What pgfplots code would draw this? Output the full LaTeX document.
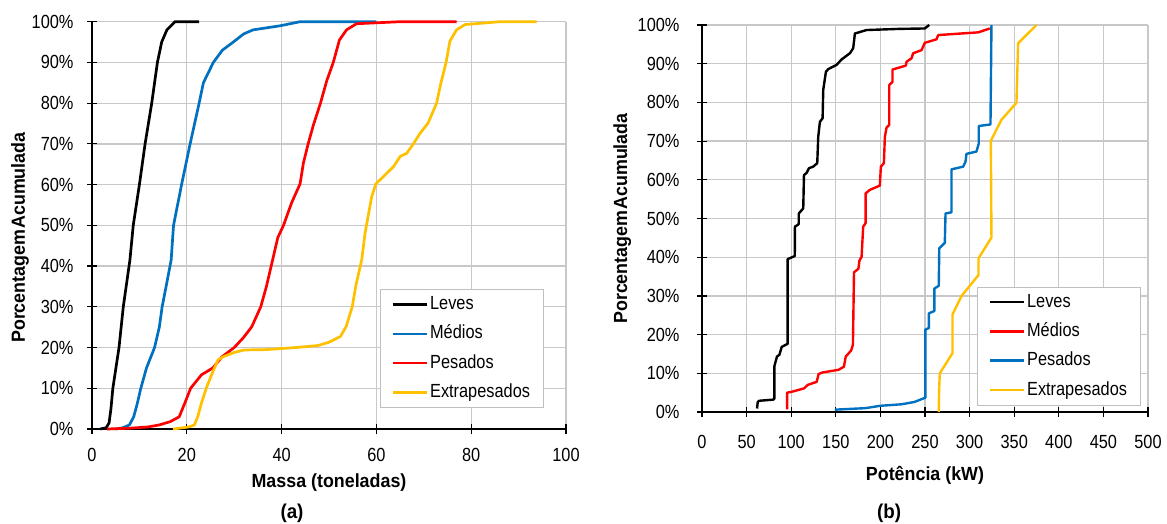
\documentclass[border=0pt]{standalone}
\usepackage{fontspec}
\setmainfont{Liberation Sans}[FakeStretch=0.86]
\newfontfamily\labfont{Liberation Sans}[FakeStretch=0.94]
\usepackage{pgfplots}
\pgfplotsset{compat=1.18}
\definecolor{cblue}{HTML}{0070C0}
\definecolor{cred}{HTML}{FF0000}
\definecolor{cyel}{HTML}{FFC000}
\definecolor{cgrid}{HTML}{C8C8C8}
\definecolor{cleg}{HTML}{BFBFBF}
\pgfplotsset{
  mystyle/.style={
    scale only axis,
    axis lines=left,
    axis line style={-, line width=1.2pt, black},
    grid=major,
    grid style={cgrid, line width=1.3pt},
    ymin=0, ymax=100,
    ytick={0,10,...,100},
    yticklabel={\pgfmathprintnumber{\tick}\%},
    /pgf/number format/assume math mode=true,
    tick align=center,
    major tick length=10pt,
    tick style={black, line width=1.2pt},
    tick label style={font=\fontsize{19}{22}\selectfont},
    label style={font=\labfont\bfseries\fontsize{19}{22}\selectfont},
    legend cell align=left,
    legend style={font=\fontsize{19}{22}\selectfont, draw=cleg, line width=1pt,
      inner xsep=11pt, inner ysep=4pt, row sep=7.3pt,
      nodes={inner sep=2pt, text height=14pt, text depth=4pt}},
    legend image code/.code={\draw[#1, line width=2.6pt] (0pt,0pt) -- (34pt,0pt);},
    every axis plot/.append style={line width=2.7pt, line join=round},
    clip=false,
  }
}
\begin{document}
\begin{tikzpicture}
\useasboundingbox (0,0) rectangle (1167pt,523pt);
\begin{axis}[mystyle,
  at={(92pt,94pt)}, anchor=south west,
  width=474pt, height=407.3pt,
  xmin=0, xmax=100, xtick={0,20,...,100},
  xticklabel style={yshift=-11pt},
  yticklabel style={xshift=-10pt},
  xlabel={Massa (toneladas)},
  xlabel style={at={(axis description cs:0.5,-0.1326)}, anchor=center},
  ylabel={Porcentagem\hspace{1pt}Acumulada},
  ylabel style={at={(axis description cs:-0.152,0.47)}, anchor=center, rotate=0},
  legend style={at={(0.6076,0.3437)}, anchor=north west},
]
\addplot[black] coordinates {(1.7,0) (3.0,0.3) (3.6,1.5) (4.0,5) (4.4,10) (5.7,20) (6.6,30) (8.0,41.5) (8.7,50) (10.0,60) (11.2,70) (12.6,80) (13.8,90) (14.7,95) (15.8,98) (17.5,100) (22.6,100)};
\addlegendentry{Leves}
\addplot[cblue] coordinates {(5.0,0) (6.5,0.3) (7.9,1) (8.8,3) (9.5,6) (10.3,10) (11.5,15) (13.2,20) (14.2,25) (14.8,30) (15.8,36) (16.7,41.5) (17.2,50) (18.9,60) (20.7,70) (22.6,80) (23.5,85) (25.6,90) (27.5,93) (29.8,95) (32,97) (34.0,98) (39.7,99) (43.9,100) (60,100)};
\addlegendentry{Médios}
\addplot[cred] coordinates {(3.2,0) (8,0.2) (11.8,0.5) (14.2,1) (16.5,1.8) (18.4,3) (19.6,6.4) (20.8,10) (23.1,13.3) (25.5,15) (27.4,17.7) (30.0,20) (32,22.5) (33.7,25.1) (35.6,30) (36.8,35) (38.1,41.5) (38.9,45.5) (39.2,47) (40.4,50) (42.1,55.5) (43.9,60.2) (44.6,65.3) (45.6,70) (46.7,74.6) (48.2,80) (49.5,85.4) (50.9,90) (52.2,95.5) (53.7,98) (55.8,99.5) (65,100) (76.9,100)};
\addlegendentry{Pesados}
\addplot[cyel] coordinates {(17.1,0) (20.4,0.5) (21.6,1) (22.3,3) (23.1,6.4) (24.1,10) (25.5,14.1) (26.6,17) (27.8,17.8) (30,18.8) (32.1,19.4) (36.8,19.5) (43,20) (47.7,20.5) (50,21.3) (52.4,22.7) (53.6,25.1) (54.9,30) (55.7,35.4) (56.9,41.5) (57.6,48) (57.9,50) (59,57) (59.9,60.2) (61.5,62) (63.6,64.4) (65,66.9) (66.4,67.7) (67.8,70) (69.2,72.6) (70.9,75.1) (72.7,80) (73.6,84.9) (74.7,90) (75.5,95.2) (76.9,98) (78.7,99.3) (86.1,100) (93.8,100)};
\addlegendentry{Extrapesados}
\end{axis}
\begin{axis}[mystyle,
  at={(702pt,111pt)}, anchor=south west,
  width=446pt, height=387pt,
  xmin=0, xmax=500, xtick={0,50,...,500},
  xticklabel style={yshift=-15pt},
  yticklabel style={xshift=-14pt},
  xlabel={Potência (kW)},
  xlabel style={at={(axis description cs:0.5,-0.1628)}, anchor=center},
  ylabel={Porcentagem\hspace{1pt}Acumulada},
  ylabel style={at={(axis description cs:-0.179,0.5)}, anchor=center},
  legend style={at={(0.6166,0.3238)}, anchor=north west},
  every axis plot/.append style={line width=2.4pt},
]
\addplot[black] coordinates {(61.7,0.9) (62.5,2.6) (64,2.9) (80,3.2) (81.2,3.5) (81.2,11.9) (84,14.3) (86.8,14.8) (89.3,16.8) (94.1,17.4) (96,17.6) (96,39.5) (104,40.3) (104.2,47.9) (107,48.3) (108.5,48.6) (108.5,51.3) (113.5,52.6) (114.3,61.2) (117.3,61.8) (119.9,63.0) (124.7,63.4) (129.2,64.3) (130.3,71.1) (132.2,75.0) (135.2,75.9) (135.9,83.2) (138.9,87.9) (141.5,88.6) (150.9,89.7) (156.5,91.1) (165.8,92.7) (169.5,94.0) (171.4,97.8) (184.5,98.7) (221.8,99.0) (249.8,99.1) (254.7,100)};
\addlegendentry{Leves}
\addplot[cred] coordinates {(95.4,0.7) (95.4,5.0) (100.2,5.2) (114.4,6.1) (118.5,7.0) (128.6,7.8) (130.7,9.8) (134.7,10.2) (153,10.9) (159.1,11.7) (161.1,14.3) (167.2,15.9) (169.2,17.4) (170.4,36.1) (175.3,37) (176.5,39.1) (178.9,40.1) (180.7,47.9) (183.4,48.8) (183.4,56.5) (188.2,57.4) (199.4,58.5) (200.5,63.4) (203.9,64.3) (205,71.1) (206.9,73.5) (209.9,74.2) (209.9,84.5) (213.6,85.3) (213.6,88.5) (228.5,89.5) (229.3,90.5) (234.9,91.4) (236.7,92.7) (246.1,93.5) (249.8,95.4) (262.9,96.3) (264.8,97.4) (309.6,98.1) (322.6,99.1)};
\addlegendentry{Médios}
\addplot[cblue] coordinates {(148.9,0.6) (183.4,1.0) (199.7,1.6) (224,2.0) (238.2,2.6) (250.4,3.7) (250.4,21.3) (254.4,21.7) (254.4,25.5) (260.5,26.1) (260.5,31.9) (265.4,32.6) (266,42.3) (272.2,43.7) (273,51.3) (279.7,51.6) (279.7,62.7) (292.8,63.4) (295.4,64.7) (296.5,66.7) (307.7,67.3) (310.3,69.4) (310.3,73.9) (323.4,74.3) (324.5,100)};
\addlegendentry{Pesados}
\addplot[cyel] coordinates {(265.4,0) (265.8,5.7) (266.6,10) (280.8,15.2) (280.8,25.2) (291,30) (310,35.4) (310,39.7) (324.5,45.1) (323.8,70.1) (335.7,75.5) (352.5,79.9) (354.4,95.3) (375,100)};
\addlegendentry{Extrapesados}
\end{axis}
\node[font=\labfont\bfseries\fontsize{20}{22}\selectfont] at (292pt,10pt) {(a)};
\node[font=\labfont\bfseries\fontsize{20}{22}\selectfont] at (889pt,10pt) {(b)};
\end{tikzpicture}
\end{document}
